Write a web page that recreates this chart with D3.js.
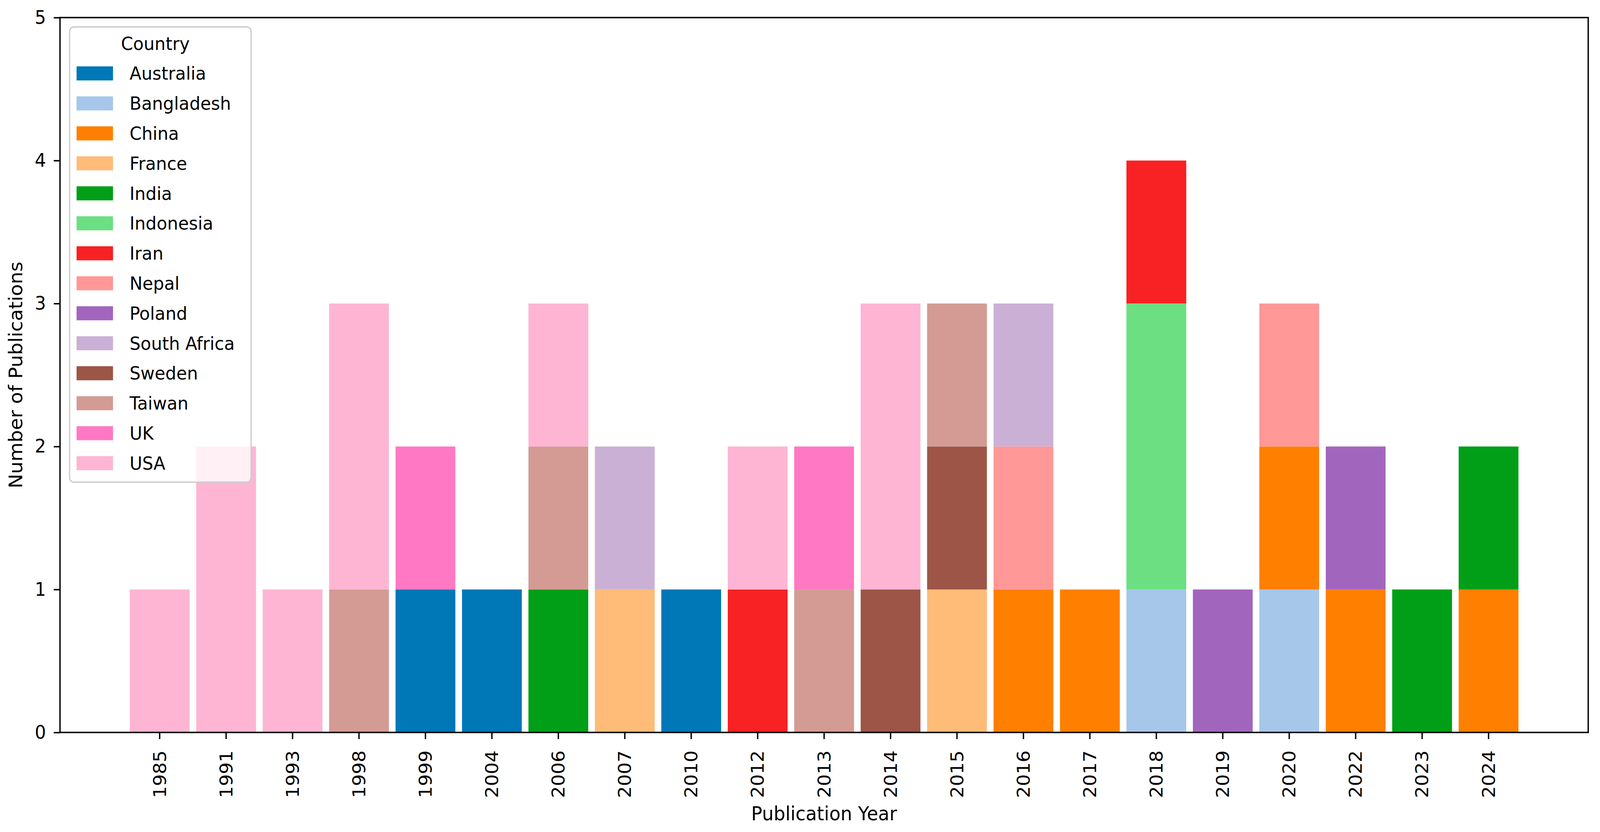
<!DOCTYPE html>
<html>
<head>
<meta charset="utf-8">
<script src="https://cdn.jsdelivr.net/npm/d3@7"></script>
<style>
  html, body { margin: 0; padding: 0; width: 100%; height: 100%; overflow: hidden; background: #fff; }
  .plot { width: 100%; height: 100%; }
  svg { display: block; }
  text { font-family: "DejaVu Sans", sans-serif; fill: #000; }
</style>
</head>
<body>
<div class="plot"></div>
<script>
// publication years (x categories)
var years = ["1985", "1991", "1993", "1998", "1999", "2004", "2006", "2007", "2010", "2012",
    "2013", "2014", "2015", "2016", "2017", "2018", "2019", "2020", "2022", "2023", "2024"];

// countries, in stacking / legend order
var countries = ["Australia", "Bangladesh", "China", "France", "India", "Indonesia", "Iran",
    "Nepal", "Poland", "South Africa", "Sweden", "Taiwan", "UK", "USA"];

var countryColors = ["#0077b6", "#a6c7e9", "#ff7f00", "#ffbb78", "#009f17", "#6cdf82", "#f82123",
    "#ff9896", "#a265bd", "#cbb0d6", "#9c5547", "#d39b93", "#ff78c4", "#fdb5d3"];

// publications per year, one array per country (same order as years)
var australia   = [0,0,0,0,1,1,0,0,1,0,0,0,0,0,0,0,0,0,0,0,0];
var bangladesh  = [0,0,0,0,0,0,0,0,0,0,0,0,0,0,0,1,0,1,0,0,0];
var china       = [0,0,0,0,0,0,0,0,0,0,0,0,0,1,1,0,0,1,1,0,1];
var france      = [0,0,0,0,0,0,0,1,0,0,0,0,1,0,0,0,0,0,0,0,0];
var india       = [0,0,0,0,0,0,1,0,0,0,0,0,0,0,0,0,0,0,0,1,1];
var indonesia   = [0,0,0,0,0,0,0,0,0,0,0,0,0,0,0,2,0,0,0,0,0];
var iran        = [0,0,0,0,0,0,0,0,0,1,0,0,0,0,0,1,0,0,0,0,0];
var nepal       = [0,0,0,0,0,0,0,0,0,0,0,0,0,1,0,0,0,1,0,0,0];
var poland      = [0,0,0,0,0,0,0,0,0,0,0,0,0,0,0,0,1,0,1,0,0];
var southAfrica = [0,0,0,0,0,0,0,1,0,0,0,0,0,1,0,0,0,0,0,0,0];
var sweden      = [0,0,0,0,0,0,0,0,0,0,0,1,1,0,0,0,0,0,0,0,0];
var taiwan      = [0,0,0,1,0,0,1,0,0,0,1,0,1,0,0,0,0,0,0,0,0];
var uk          = [0,0,0,0,1,0,0,0,0,0,1,0,0,0,0,0,0,0,0,0,0];
var usa         = [1,2,1,2,0,0,1,0,0,1,0,2,0,0,0,0,0,0,0,0,0];

var yTicks = [0, 1, 2, 3, 4, 5];

var seriesValues = [australia, bangladesh, china, france, india, indonesia, iran,
    nepal, poland, southAfrica, sweden, taiwan, uk, usa];

// build rows for d3.stack
var tableData = years.map(function (year, i) {
    var row = { year: year };
    countries.forEach(function (c, j) {
        row[c] = seriesValues[j][i];
    });
    return row;
});

var svgWidth = 4346;
var svgHeight = 2131;

var margin = { top: 45, right: 32, bottom: 255, left: 163 };
var width = svgWidth - margin.left - margin.right;
var height = svgHeight - margin.top - margin.bottom;

var tickFont = 48;
var labelFont = 50;
var legendFont = 47;
var lineW = 3.7;
var tickLen = 17;

// viewBox stretched to the viewport so the figure fills the frame
var svg = d3.select(".plot")
    .append("svg")
    .attr("viewBox", `0 0 ${svgWidth} ${svgHeight}`)
    .attr("preserveAspectRatio", "none")
    .attr("width", "100%")
    .attr("height", "100%");

var chartGroup = svg.append("g")
    .attr("transform", `translate(${margin.left}, ${margin.top})`);

// scales
var xScale = d3.scaleBand()
    .domain(years)
    .range([0, width])
    .paddingInner(0.1)
    .paddingOuter(1.05);

var yScale = d3.scaleLinear()
    .domain([0, 5])
    .range([height, 0]);

var color = d3.scaleOrdinal()
    .domain(countries)
    .range(countryColors);

// stacked bars
var stacked = d3.stack().keys(countries)(tableData);

chartGroup.selectAll("g.layer")
    .data(stacked)
    .enter()
    .append("g")
    .attr("class", "layer")
    .attr("fill", d => color(d.key))
    .selectAll("rect")
    .data(d => d.filter(p => p[1] - p[0] > 0))
    .enter()
    .append("rect")
    .attr("x", d => xScale(d.data.year))
    .attr("width", xScale.bandwidth())
    .attr("y", d => yScale(d[1]))
    .attr("height", d => yScale(d[0]) - yScale(d[1]));

// axes
var xAxis = d3.axisBottom(xScale).tickSize(tickLen).tickSizeOuter(0);
var yAxis = d3.axisLeft(yScale).tickValues(yTicks).tickFormat(d3.format("d"))
    .tickSize(tickLen).tickSizeOuter(0);

var xg = chartGroup.append("g")
    .attr("transform", `translate(0, ${height})`)
    .call(xAxis);

xg.selectAll("text")
    .attr("font-size", tickFont)
    .attr("text-anchor", "end")
    .attr("transform", "rotate(-90)")
    .attr("x", -46)
    .attr("y", 0)
    .attr("dy", "0.35em");

var yg = chartGroup.append("g")
    .call(yAxis);

yg.selectAll("text")
    .attr("font-size", tickFont)
    .attr("x", -38);

[xg, yg].forEach(function (g) {
    g.select(".domain").remove();
    g.selectAll("line").attr("stroke", "#000").attr("stroke-width", lineW);
    g.selectAll("text").attr("fill", "#000").attr("font-family", "DejaVu Sans");
});

// frame (all four spines)
chartGroup.append("rect")
    .attr("x", 0)
    .attr("y", 0)
    .attr("width", width)
    .attr("height", height)
    .attr("fill", "none")
    .attr("stroke", "#000")
    .attr("stroke-width", lineW);

// axis labels
svg.append("text")
    .attr("x", margin.left + width / 2)
    .attr("y", 2101)
    .attr("text-anchor", "middle")
    .attr("font-size", labelFont)
    .text("Publication Year");

svg.append("text")
    .attr("transform", `translate(60, ${margin.top + height / 2}) rotate(-90)`)
    .attr("text-anchor", "middle")
    .attr("font-size", labelFont)
    .text("Number of Publications");

// legend
var legend = svg.append("g")
    .attr("transform", "translate(189, 69)");

legend.append("rect")
    .attr("width", 493)
    .attr("height", 1166)
    .attr("rx", 12)
    .attr("fill", "#fff")
    .attr("fill-opacity", 0.8)
    .attr("stroke", "#cccccc")
    .attr("stroke-width", 3.5);

legend.append("text")
    .attr("x", 233)
    .attr("y", 43)
    .attr("dy", "0.35em")
    .attr("text-anchor", "middle")
    .attr("font-size", legendFont)
    .text("Country");

var rowH = 76.8;
var items = legend.selectAll("g.item")
    .data(countries)
    .enter()
    .append("g")
    .attr("class", "item")
    .attr("transform", (d, i) => `translate(0, ${119 + i * rowH})`);

items.append("rect")
    .attr("x", 19)
    .attr("y", -18)
    .attr("width", 99)
    .attr("height", 36)
    .attr("fill", d => color(d));

items.append("text")
    .attr("x", 163)
    .attr("y", 0)
    .attr("dy", "0.35em")
    .attr("font-size", legendFont)
    .text(d => d);
</script>
</body>
</html>
